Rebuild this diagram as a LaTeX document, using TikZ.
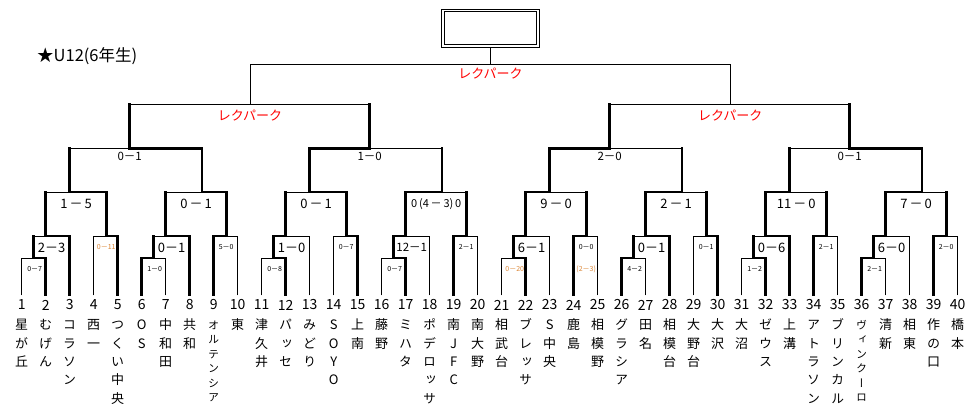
\documentclass[tikz,border=0pt]{standalone}
\usepackage{fontspec}
\setmainfont{Noto Sans CJK JP}
\newfontfamily\vjp[RawFeature=+vert]{Noto Sans CJK JP}
\definecolor{scoreor}{RGB}{220,135,55}
\begin{document}
\begin{tikzpicture}[x=1pt,y=-1pt,
  thinln/.style={line width=0.9pt,line cap=rect},
  thickln/.style={line width=2.5pt,line cap=rect,line join=miter},
  sscore/.style={font=\fontsize{7}{8}\selectfont,inner sep=0pt},
  bscore/.style={font=\fontsize{13}{14}\selectfont,inner sep=0pt},
  dscore/.style={font=\fontsize{11.5}{12}\selectfont,inner sep=0pt},
  venuelbl/.style={font=\fontsize{13}{14}\selectfont,text=red,inner sep=0pt},
  pnum/.style={font=\fontsize{14}{15}\selectfont,inner sep=0pt},
]
\fill[white] (0,0) rectangle (979,418);
\useasboundingbox (0,0) rectangle (979,418);

% title and champion box
\node[anchor=west,inner sep=0pt,font=\fontsize{16.5}{17}\selectfont] (title) at (37,56) {★U12(6年生)};
\node[draw,line width=0.9pt,double,double distance=1.5pt,minimum width=95pt,minimum height=35.5pt,inner sep=0pt] (champ) at (490.5,28.3) {};
\coordinate (fstem) at (490.5,64.3);
\coordinate (fl) at (250,64.3);
\coordinate (fr) at (730.2,64.3);
\draw[thinln] ([yshift=-1.3pt]champ.south) -- (fstem);
\draw[thinln] (fl) -- (fr);
\node[venuelbl] (vf) at (490.5,73.3) {レクパーク};

% semifinals
\coordinate (el1) at (129.7,104.3); \coordinate (er1) at (370.4,104.3);
\coordinate (el2) at (609.7,104.3); \coordinate (er2) at (850.7,104.3);
\draw[thinln] (el1) -- (er1);
\draw[thinln] (el2) -- (er2);
\draw[thinln] (250,104.3) -- (fl);
\draw[thinln] (730.2,104.3) -- (fr);
\node[venuelbl] (ve1) at (250,115.7) {レクパーク};
\node[venuelbl] (ve2) at (730.2,115.7) {レクパーク};

% quarterfinals
\foreach \k/\w/\lab in {0/1/{0－1},1/0/{1－0},2/0/{2－0},3/1/{0－1}}{
  \pgfmathsetmacro\dl{69.7+240*\k}
  \pgfmathsetmacro\dr{\dl+132.5}
  \pgfmathsetmacro\ds{\dl+60}
  \pgfmathsetmacro\dwx{\w==0?\dl:\dr}
  \draw[thinln] (\dl,148.5) -- (\dr,148.5);
  \draw[thickln] (\dwx,148.5) -- (\ds,148.5) -- (\ds,104.3);
  \node[dscore] (sd\k) at (\ds,156.7) {\lab};
}

% groups of five
\foreach \gg/\aw/\bw/\cw/\dw/\CS/\LA/\LB/\LC/\LD in {
 0/1/1/1/1/48/{0－7}/{2－3}/{\textcolor{scoreor}{0－11}}/{1\hspace{2pt}－\hspace{2pt}5},
 1/0/1/0/1/60.5/{1－0}/{0－1}/{5－0}/{0\hspace{2pt}－\hspace{2pt}1},
 2/1/0/1/1/48/{0－8}/{1－0}/{0－7}/{0\hspace{2pt}－\hspace{2pt}1},
 3/1/0/0/0/60.5/{0－7}/{\fontsize{11.5}{12}\selectfont 12－1}/{2－1}/{\fontsize{11}{12}\selectfont 0\,(4\,－\,3)\,0},
 4/1/0/0/0/48/{\textcolor{scoreor}{0－20}}/{6－1}/{0－0}/{9\hspace{2pt}－\hspace{2pt}0},
 5/0/1/1/0/60.5/{4－2}/{0－1}/{0－1}/{2\hspace{2pt}－\hspace{2pt}1},
 6/1/1/0/0/48/{1－2}/{0－6}/{2－1}/{11\hspace{2pt}－\hspace{2pt}0},
 7/0/0/0/0/60.5/{2－1}/{6－0}/{2－0}/{7\hspace{2pt}－\hspace{2pt}0}}{
  \pgfmathsetmacro\pA{21.7+120*\gg}
  \pgfmathsetmacro\pB{\pA+24}
  \pgfmathsetmacro\pC{\pA+48}
  \pgfmathsetmacro\pD{\pA+72}
  \pgfmathsetmacro\pE{\pA+96}
  \pgfmathsetmacro\sA{\pA+12}
  \pgfmathsetmacro\sB{\pD+13}
  \pgfmathsetmacro\sC{\pA+\CS}
  \pgfmathsetmacro\wA{\aw==0?\pA:\pB}
  \pgfmathsetmacro\wB{\bw==0?\sA:\pC}
  \pgfmathsetmacro\wC{\cw==0?\pD:\pE}
  \pgfmathsetmacro\wD{\dw==0?\pB:\sB}
  \draw[thinln] (\pA,295) -- (\pA,258) -- (\pB,258) -- (\pB,295);
  \draw[thinln] (\sA,236) -- (\pC,236) -- (\pC,295);
  \draw[thinln] (\pD,295) -- (\pD,236) -- (\pE,236) -- (\pE,295);
  \draw[thinln] (\pB,192) -- (\sB,192);
  \draw[thickln] (\wA,295) -- (\wA,258) -- (\sA,258) -- (\sA,236);
  \ifnum\bw=1 \draw[thickln] (\pC,295) -- (\pC,236); \fi
  \draw[thickln] (\wB,236) -- (\pB,236) -- (\pB,192);
  \draw[thickln] (\wC,295) -- (\wC,236) -- (\sB,236) -- (\sB,192);
  \draw[thickln] (\wD,192) -- (\sC,192) -- (\sC,148.5);
  \node[sscore] (sa\gg) at (\sA+1,269) {\LA};
  \node[bscore] (sb\gg) at (\pA+30,247.5) {\LB};
  \node[sscore] (sc\gg) at (\pD+12.5,247) {\LC};
  \node[bscore] (sg\gg) at ({(\pB+\sB)/2},204) {\LD};
}
\node[sscore] (pk) at (586.2,269) {\textcolor{scoreor}{(2－3)}};

% player numbers
\foreach \i in {1,...,40}{
  \node[pnum] (num\i) at ({21.7+24*(\i-1)},305) {\i};
}

% player names (vertical)
\foreach \i/\sp/\fsz/\nm in {
 1/18.3/13/{星,が,丘}, 2/18.3/13/{む,げ,ん}, 3/18.3/13/{コ,ラ,ソ,ン}, 4/18.3/13/{西,一},
 5/18.3/13/{つ,く,い,中,央}, 6/18.3/13/{O,S}, 7/18.3/13/{中,和,田}, 8/18.3/13/{共,和},
 9/14.5/11/{オ,ル,テ,ン,シ,ア}, 10/18.3/13/{東}, 11/18.3/13/{津,久,井}, 12/18.3/13/{パ,ッ,セ},
 13/18.3/13/{み,ど,り}, 14/18.3/13/{S,O,Y,O}, 15/18.3/13/{上,南}, 16/18.3/13/{藤,野},
 17/18.3/13/{ミ,ハ,タ}, 18/18.3/13/{ポ,デ,ロ,ッ,サ}, 19/18.3/13/{南,J,F,C}, 20/18.3/13/{南,大,野},
 21/18.3/13/{相,武,台}, 22/18.3/13/{ブ,レ,ッ,サ}, 23/18.3/13/{S,中,央}, 24/18.3/13/{鹿,島},
 25/18.3/13/{相,模,野}, 26/18.3/13/{グ,ラ,シ,ア}, 27/18.3/13/{田,名}, 28/18.3/13/{相,模,台},
 29/18.3/13/{大,野,台}, 30/18.3/13/{大,沢}, 31/18.3/13/{大,沼}, 32/18.3/13/{ゼ,ウ,ス},
 33/18.3/13/{上,溝}, 34/18.3/13/{ア,ト,ラ,ソ,ン}, 35/18.3/13/{ブ,リ,ン,カ,ル}, 36/14.5/11/{ヴ,ィ,ン,ク,ー,ロ},
 37/18.3/13/{清,新}, 38/18.3/13/{相,東}, 39/18.3/13/{作,の,口}, 40/18.3/13/{橋,本}}{
  \pgfmathsetmacro\px{21.7+24*(\i-1)}
  \pgfmathsetmacro\th{0.88*\fsz}
  \pgfmathsetmacro\td{0.12*\fsz}
  \foreach \c [count=\k] in \nm {
    \pgfmathsetmacro\py{325+\sp*(\k-1)}
    \node[inner sep=0pt,font=\vjp\fontsize{\fsz}{\fsz}\selectfont,text height=\th pt,text depth=\td pt] (n\i-\k) at (\px,\py) {\c};
  }
}
\end{tikzpicture}
\end{document}
